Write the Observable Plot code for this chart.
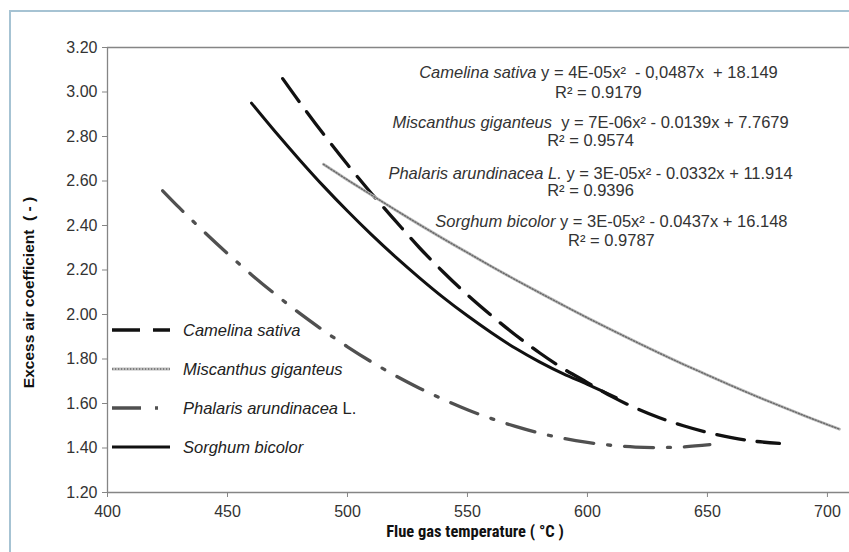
<!DOCTYPE html>
<html><head><meta charset="utf-8">
<script src="https://cdn.jsdelivr.net/npm/d3@7"></script>
<script src="https://cdn.jsdelivr.net/npm/@observablehq/plot@0.6"></script>
<style>
html,body{margin:0;padding:0;background:#fff;}
#wrap{position:relative;width:849px;height:552px;overflow:hidden;}
#frame{position:absolute;left:9px;top:10px;width:900px;height:700px;border-left:2px solid #a6c3d3;border-top:2px solid #a6c3d3;pointer-events:none;}
</style></head><body>
<div id="wrap"></div>
<script>
// ---- data ----
const xTicks = [400, 450, 500, 550, 600, 650, 700];
const yTicks = [1.2, 1.4, 1.6, 1.8, 2.0, 2.2, 2.4, 2.6, 2.8, 3.0, 3.2];
const seriesNames = ["Camelina sativa", "Miscanthus giganteus", "Phalaris arundinacea L.", "Sorghum bicolor"];

const camelinaX = [473,480,490,500,510,520,530,540,550,560,570,580,590,600,610,620,630,640,650,660,670,680];
const camelinaY = [3.06,2.955,2.811,2.674,2.544,2.421,2.30,2.19,2.088,1.995,1.908,1.828,1.756,1.694,1.632,1.58,1.536,1.5,1.47,1.447,1.43,1.421];

const miscanthusX = [490,500,510,520,530,540,550,560,570,580,590,600,610,620,630,640,650,660,670,680,690,700,705];
const miscanthusY = [2.675,2.605,2.537,2.47,2.404,2.34,2.278,2.216,2.156,2.098,2.041,1.985,1.931,1.878,1.826,1.776,1.728,1.68,1.634,1.59,1.547,1.505,1.485];

const phalarisX = [423,430,440,450,460,470,480,490,500,510,520,530,540,550,560,570,580,590,600,610,620,630,640,651];
const phalarisY = [2.556,2.479,2.374,2.274,2.179,2.09,2.006,1.928,1.855,1.787,1.725,1.669,1.618,1.572,1.532,1.497,1.467,1.443,1.425,1.412,1.404,1.402,1.405,1.415];

const sorghumX = [460,470,480,490,500,510,520,530,540,550,560,570,580,590,600,612];
const sorghumY = [2.95,2.82,2.696,2.577,2.465,2.359,2.259,2.165,2.076,1.994,1.918,1.848,1.787,1.733,1.686,1.627];

const eqFormulas = [" y = 4E-05x\u00B2  - 0,0487x  + 18.149", "  y = 7E-06x\u00B2 - 0.0139x + 7.7679", " y = 3E-05x\u00B2 - 0.0332x + 11.914", " y = 3E-05x\u00B2 - 0.0437x + 16.148"];
const eqR2 = ["R\u00B2 = 0.9179", "R\u00B2 = 0.9574", "R\u00B2 = 0.9396", "R\u00B2 = 0.9787"];
const xLabel = "Flue gas temperature ( \u00B0C )";
const yLabel = "Excess air coefficient  ( - )";

// ---- layout / style ----
const eqLayout = [ // anchors in data units: [x, yLine1, yLine2]
  [604.8, 3.088, 2.998],
  [601.5, 2.864, 2.781],
  [601.5, 2.632, 2.557],
  [610.2, 2.415, 2.333]
];
const styles = [
  {stroke: "#111", strokeWidth: 3.3, strokeDasharray: "28,13"},
  {stroke: "#bdbdbd", strokeWidth: 3, strokeDasharray: null, overlay: {stroke: "#6a6a6a", strokeWidth: 1.5, strokeDasharray: "1.2,1.8"}},
  {stroke: "#505050", strokeWidth: 3.3, strokeDasharray: "29,14,3,14"},
  {stroke: "#111", strokeWidth: 3, strokeDasharray: null}
];
const seriesX = [camelinaX, miscanthusX, phalarisX, sorghumX];
const seriesY = [camelinaY, miscanthusY, phalarisY, sorghumY];
const rows = seriesNames.flatMap((name, i) => seriesX[i].map((x, j) => ({name, x, y: seriesY[i][j]})));

const axisGray = "#858585";
const marks = [
  Plot.ruleY([3.2], {stroke: axisGray, strokeWidth: 1.3}),
];
seriesNames.forEach((name, i) => {
  const s = styles[i];
  const data = rows.filter(d => d.name === name);
  marks.push(Plot.line(data, {x: "x", y: "y", curve: "catmull-rom", stroke: s.stroke, strokeWidth: s.strokeWidth, strokeDasharray: s.strokeDasharray}));
  if (s.overlay) marks.push(Plot.line(data, {x: "x", y: "y", curve: "catmull-rom", stroke: s.overlay.stroke, strokeWidth: s.overlay.strokeWidth, strokeDasharray: s.overlay.strokeDasharray}));
});
marks.push(
  Plot.ruleX([400], {stroke: axisGray, strokeWidth: 1.3}),
  Plot.ruleY([1.2], {stroke: axisGray, strokeWidth: 1.3}),
  Plot.axisX({ticks: xTicks, tickSize: 5, tickPadding: 8, stroke: axisGray, tickFormat: d => String(d), label: null}),
  Plot.axisY({ticks: yTicks, tickSize: 5, tickPadding: 5, stroke: axisGray, tickFormat: d3.format(".2f"), label: null})
);

const chart = Plot.plot({
  width: 849, height: 552,
  marginLeft: 107, marginRight: 0, marginTop: 47, marginBottom: 60,
  style: {background: "transparent", fontFamily: "'Liberation Sans', Arial, sans-serif", fontSize: "16px", color: "#333", overflow: "visible"},
  x: {domain: [400, 709.2]},
  y: {domain: [1.2, 3.2]},
  marks
});
document.getElementById("wrap").appendChild(chart);
const fr = document.createElement("div"); fr.id = "frame";
document.getElementById("wrap").appendChild(fr);

const sx = chart.scale("x"), sy = chart.scale("y");
const svg = d3.select(chart);

// axis titles
svg.append("text")
  .attr("transform", `translate(29, ${(sy.apply(1.2) + sy.apply(3.2)) / 2 + 23}) rotate(-90)`)
  .attr("text-anchor", "middle").attr("dy", "0.35em")
  .style("white-space", "pre")
  .attr("font-family", "'Liberation Sans', Arial, sans-serif").attr("font-weight", "bold").attr("font-size", 15.5).attr("fill", "#111")
  .text(yLabel);
svg.append("text")
  .attr("x", (sx.apply(400) + sx.apply(709.2)) / 2 - 3).attr("y", 531)
  .attr("text-anchor", "middle").attr("dy", "0.35em")
  .style("white-space", "pre")
  .attr("font-family", "'Liberation Sans Narrow', 'Roboto Condensed', 'Arial Narrow', 'Liberation Sans', sans-serif").attr("font-weight", "bold").attr("font-size", 16.5).attr("fill", "#111")
  .text(xLabel);

// equations
seriesNames.forEach((name, i) => {
  const [ex, ey1, ey2] = eqLayout[i];
  const t = svg.append("text").attr("x", sx.apply(ex)).attr("y", sy.apply(ey1)).attr("dy", "0.35em")
    .attr("text-anchor", "middle").style("white-space", "pre")
    .attr("font-family", "'Liberation Sans', Arial, sans-serif").attr("font-size", 16.5).attr("fill", "#333");
  t.append("tspan").attr("font-style", "italic").text(name);
  t.append("tspan").text(eqFormulas[i]);
  svg.append("text").attr("x", sx.apply(ex)).attr("y", sy.apply(ey2)).attr("dy", "0.35em")
    .attr("text-anchor", "middle").style("white-space", "pre")
    .attr("font-family", "'Liberation Sans', Arial, sans-serif").attr("font-size", 16.5).attr("fill", "#333")
    .text(eqR2[i]);
});

// legend
const lg = svg.append("g").attr("text-anchor", "start");
seriesNames.forEach((name, i) => {
  const s = styles[i];
  const y = 330 + i * 39;
  lg.append("line").attr("x1", 112).attr("x2", 170).attr("y1", y).attr("y2", y)
    .attr("stroke", s.stroke).attr("stroke-width", s.strokeWidth).attr("stroke-dasharray", s.strokeDasharray);
  if (s.overlay) lg.append("line").attr("x1", 112).attr("x2", 170).attr("y1", y).attr("y2", y)
    .attr("stroke", s.overlay.stroke).attr("stroke-width", s.overlay.strokeWidth).attr("stroke-dasharray", s.overlay.strokeDasharray);
  const t = lg.append("text").attr("x", 183).attr("y", y).attr("dy", "0.35em").attr("text-anchor", "start")
    .attr("font-family", "'Liberation Sans', Arial, sans-serif").attr("font-size", 16.5).attr("fill", "#222");
  if (name.endsWith(" L.")) {
    t.append("tspan").attr("font-style", "italic").text(name.slice(0, -3));
    t.append("tspan").text(" L.");
  } else {
    t.append("tspan").attr("font-style", "italic").text(name);
  }
});
</script>
</body></html>
